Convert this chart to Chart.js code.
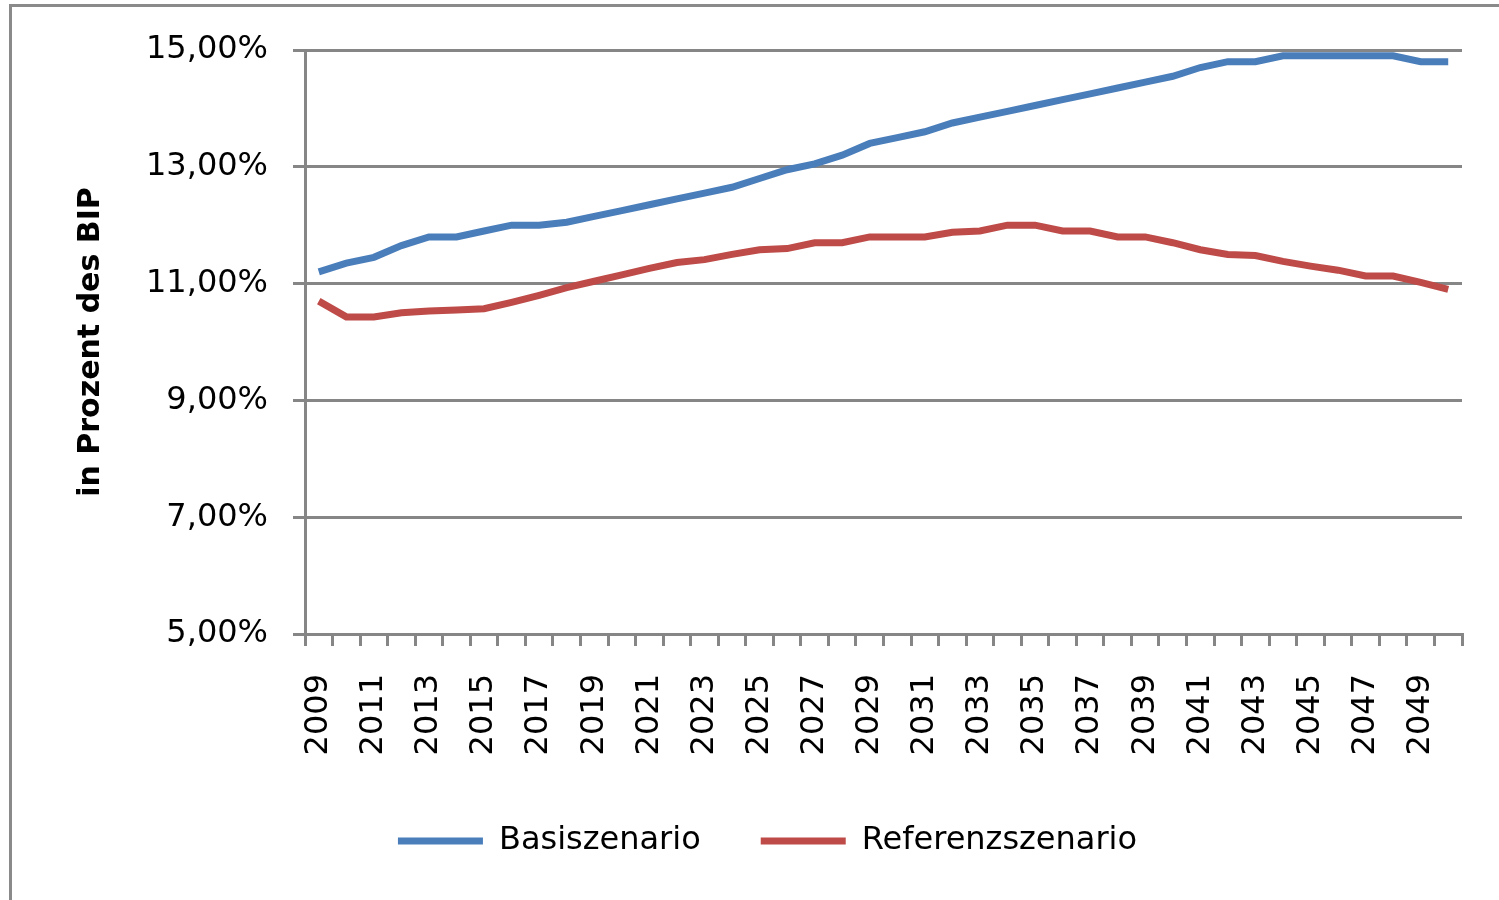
<!DOCTYPE html>
<html>
<head>
<meta charset="utf-8">
<title>Basiszenario / Referenzszenario</title>
<script src="https://cdn.jsdelivr.net/npm/chart.js@4.4.1/dist/chart.umd.min.js"></script>
<style>
  html, body { margin: 0; padding: 0; background: #fff; overflow: hidden; }
  #frame {
    position: absolute; left: 9px; top: 4px; width: 1600px; height: 1000px;
    border-left: 3px solid #8a8a8a; border-top: 3px solid #8a8a8a;
  }
  #chart { position: absolute; left: 0; top: 0; }
</style>
</head>
<body>
<div id="frame"></div>
<canvas id="chart" width="1499" height="900"></canvas>
<script>
// ========== Daten ==========
const years = [
  '2009', '2010', '2011', '2012', '2013', '2014', '2015', '2016', '2017', '2018',
  '2019', '2020', '2021', '2022', '2023', '2024', '2025', '2026', '2027', '2028',
  '2029', '2030', '2031', '2032', '2033', '2034', '2035', '2036', '2037', '2038',
  '2039', '2040', '2041', '2042', '2043', '2044', '2045', '2046', '2047', '2048',
  '2049', '2050'
]

// Anteil in Prozent des BIP
const basisszenario = [
  11.2, 11.35, 11.45, 11.65, 11.8, 11.8, 11.9, 12.0, 12.0, 12.05,
  12.15, 12.25, 12.35, 12.45, 12.55, 12.65, 12.8, 12.95, 13.05, 13.2,
  13.4, 13.5, 13.6, 13.75, 13.85, 13.95, 14.05, 14.15, 14.25, 14.35,
  14.45, 14.55, 14.7, 14.8, 14.8, 14.9, 14.9, 14.9, 14.9, 14.9,
  14.8, 14.8
]

const referenzszenario = [
  10.7, 10.43, 10.43, 10.5, 10.53, 10.55, 10.57, 10.68, 10.8, 10.93,
  11.04, 11.15, 11.26, 11.36, 11.41, 11.5, 11.58, 11.6, 11.7, 11.7,
  11.8, 11.8, 11.8, 11.88, 11.9, 12.0, 12.0, 11.9, 11.9, 11.8,
  11.8, 11.7, 11.58, 11.5, 11.48, 11.38, 11.3, 11.23, 11.13, 11.13,
  11.02, 10.9
]

const yTicks = [5, 7, 9, 11, 13, 15]

// ========== Chart ==========
const gridColor = '#868686'
const tickFont = { family: 'DejaVu Sans', size: 32 }

const ctx = document.getElementById('chart').getContext('2d')

new Chart(ctx, {
  type: 'line',
  data: {
    labels: years,
    datasets: [
      {
        label: 'Basiszenario',
        data: basisszenario,
        borderColor: '#4a7ebb',
        backgroundColor: '#4a7ebb',
        borderWidth: 7,
        pointRadius: 0,
        tension: 0
      },
      {
        label: 'Referenzszenario',
        data: referenzszenario,
        borderColor: '#be4b48',
        backgroundColor: '#be4b48',
        borderWidth: 7,
        pointRadius: 0,
        tension: 0
      }
    ]
  },
  options: {
    responsive: false,
    animation: false,
    layout: { padding: { left: 73, right: 37, top: 50, bottom: 33 } },
    plugins: {
      tooltip: { enabled: false },
      legend: {
        position: 'bottom',
        labels: {
          color: '#000',
          font: tickFont,
          boxWidth: 85,
          boxHeight: 7,
          padding: 60,
          generateLabels: function (chart) {
            const items = Chart.defaults.plugins.legend.labels.generateLabels(chart)
            items.forEach(function (it) { it.lineWidth = 0 })
            return items
          }
        }
      }
    },
    scales: {
      x: {
        offset: true,
        afterFit: function (scale) {
          scale.height = 131
          scale.paddingLeft = 0
          scale.paddingRight = 0
        },
        grid: {
          offset: true,
          drawOnChartArea: false,
          drawTicks: true,
          tickLength: 12,
          color: gridColor,
          lineWidth: 3
        },
        border: { display: true, color: gridColor, width: 3 },
        ticks: {
          autoSkip: false,
          minRotation: 90,
          maxRotation: 90,
          padding: 28,
          color: '#000',
          font: tickFont,
          callback: function (value, index) {
            return index % 2 === 0 ? this.getLabelForValue(value) : ''
          }
        }
      },
      y: {
        min: 5,
        max: 15,
        afterFit: function (scale) { scale.width = 232 },
        afterBuildTicks: function (scale) {
          scale.ticks = yTicks.map(function (v) { return { value: v } })
        },
        grid: {
          color: gridColor,
          lineWidth: 3,
          drawTicks: true,
          tickLength: 12
        },
        border: { display: true, color: gridColor, width: 3 },
        title: {
          display: true,
          text: 'in Prozent des BIP',
          color: '#000',
          font: { family: 'DejaVu Sans', size: 30, weight: 'bold' },
          padding: { top: 0, bottom: 0 }
        },
        ticks: {
          padding: 25,
          color: '#000',
          font: tickFont,
          callback: function (value) {
            return value.toFixed(2).replace('.', ',') + '%'
          }
        }
      }
    }
  }
})
</script>
</body>
</html>
